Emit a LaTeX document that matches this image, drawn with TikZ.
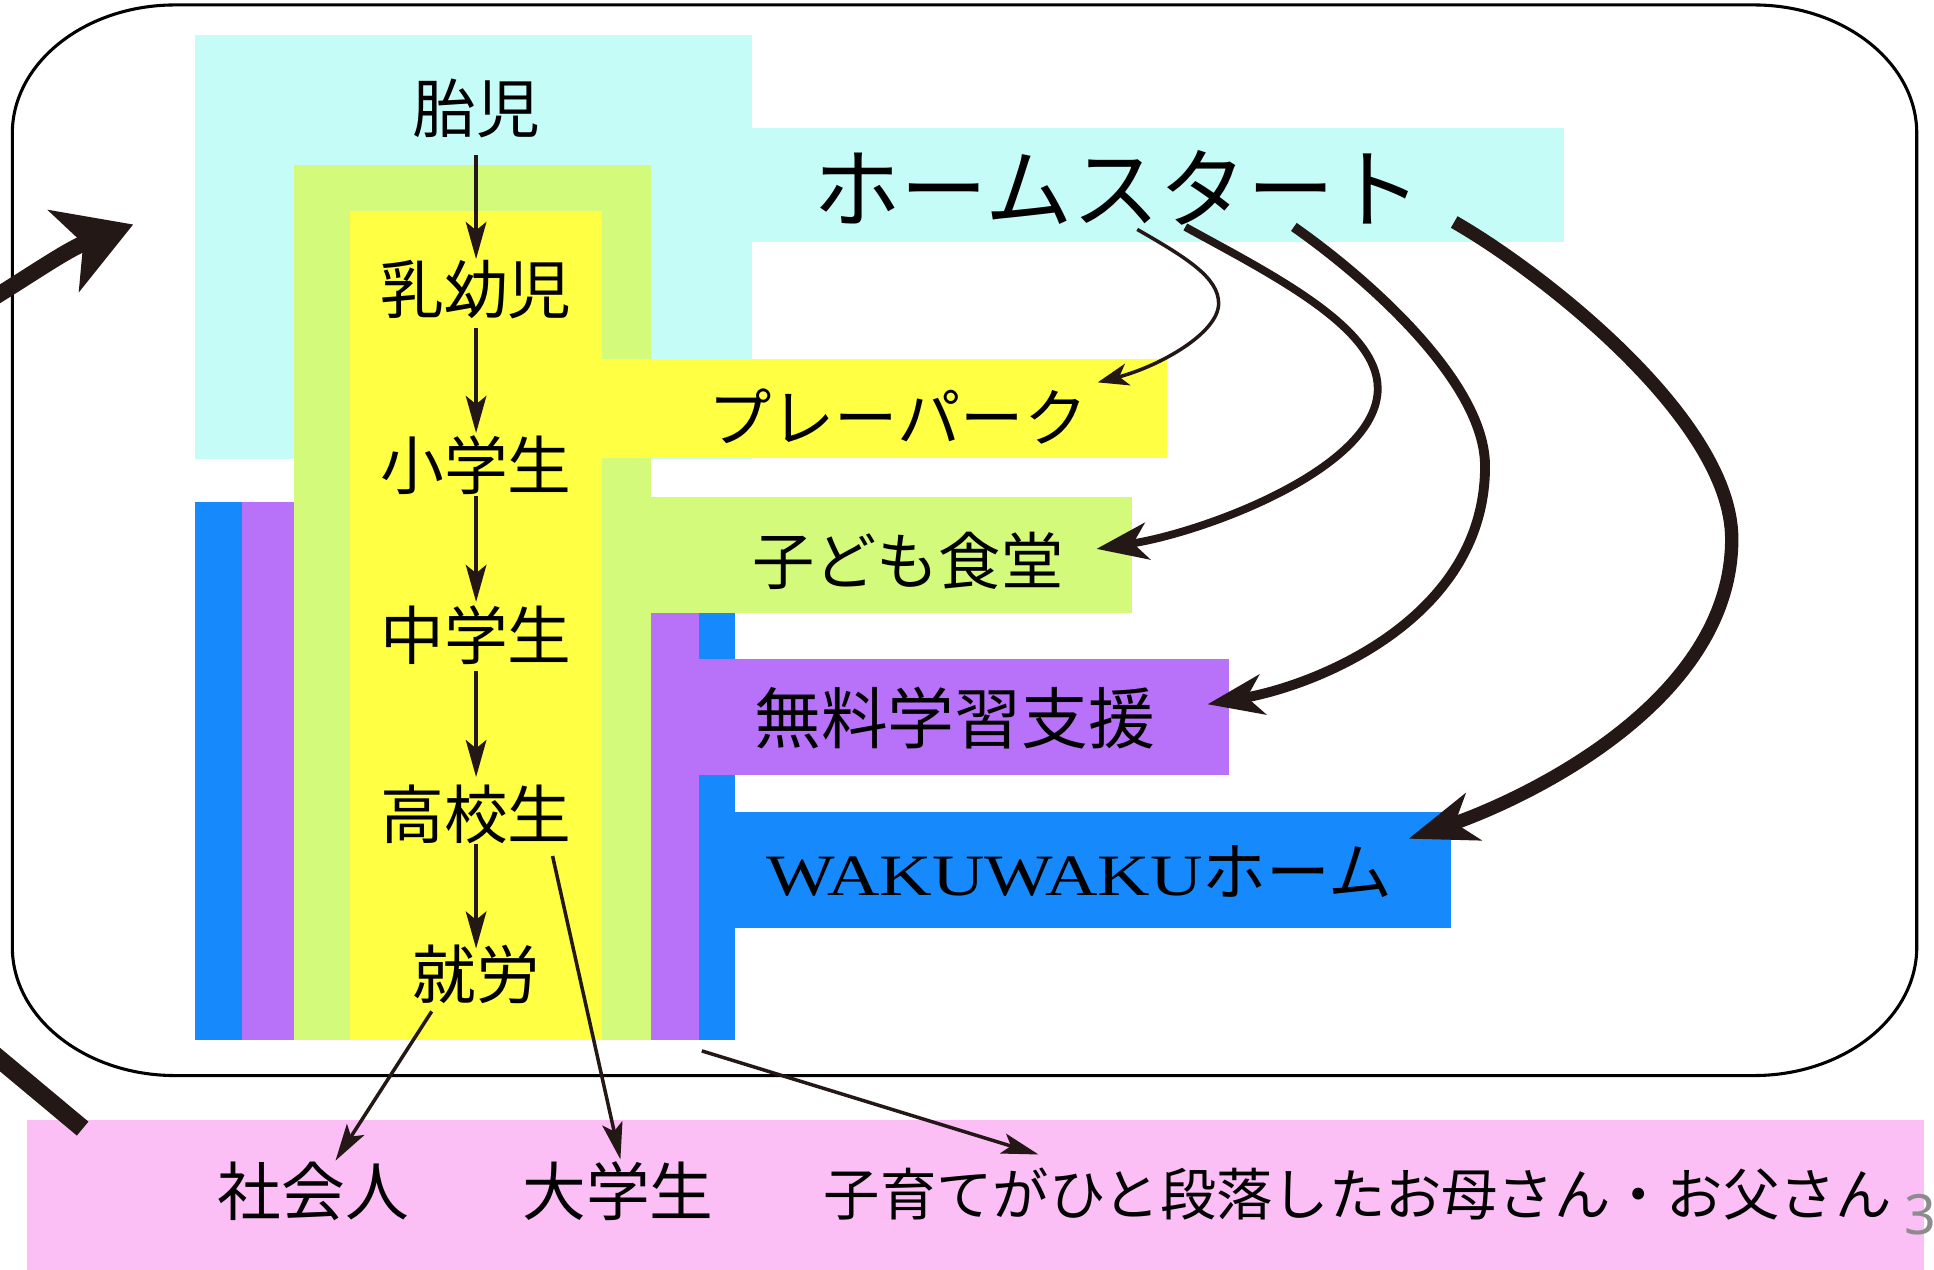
\documentclass[tikz,border=0pt]{standalone}
\usepackage{fontspec}
\setmainfont{Liberation Serif}
\newfontfamily\jp{Noto Sans CJK JP}
\newfontfamily\numfont{Noto Sans}
\usetikzlibrary{arrows.meta,calc}
\definecolor{cyanbg}{RGB}{197,252,248}
\definecolor{greenbg}{RGB}{211,250,122}
\definecolor{yellowbg}{RGB}{255,255,68}
\definecolor{purplebg}{RGB}{184,113,249}
\definecolor{bluebg}{RGB}{22,138,252}
\definecolor{pinkbg}{RGB}{251,190,245}
\definecolor{ink}{RGB}{35,24,21}
\definecolor{pagegray}{RGB}{140,140,140}
\tikzset{
  stage/.style={inner sep=0pt, text=black, font=\jp\fontsize{31}{31}\selectfont},
  svc/.style={inner sep=0pt, text=black, font=\jp\fontsize{31}{31}\selectfont},
  flow/.style={draw=ink, line width=1.7pt, -{Stealth[length=18pt,width=10pt,inset=4pt]}},
  reach/.style={draw=ink, -{Stealth[length=#1,width=0.72*#1,inset=0.28*#1]}},
  frame/.style={draw=black, line width=1.5pt},
}
\begin{document}
\begin{tikzpicture}[x=0.6pt,y=-0.6pt]
\useasboundingbox (0,0) rectangle (1568,1029);
\clip (0,0) rectangle (1568,1029);
\fill[white] (0,0) rectangle (1568,1029);

% colour blocks
\fill[cyanbg] (158,28) rectangle (610,372);
\fill[cyanbg] (610,104) rectangle (1268,196);
\fill[greenbg] (238,134) rectangle (528,843);
\fill[greenbg] (528,403) rectangle (918,497);
\fill[yellowbg] (284,171) rectangle (488,843);
\fill[yellowbg] (488,291) rectangle (946,371);
\fill[bluebg] (158,407) rectangle (196,843);
\fill[purplebg] (196,407) rectangle (238,843);
\fill[bluebg] (567,497) rectangle (596,843);
\fill[purplebg] (528,497) rectangle (567,843);
\fill[purplebg] (567,534) rectangle (996,628);
\fill[bluebg] (596,658) rectangle (1176,752);
\fill[pinkbg] (22,908) rectangle (1560,1040);

% frame
\draw[frame] (142,4) -- (1422,4) .. controls (1495,4) and (1554,51) .. (1554,108)
  -- (1554,768) .. controls (1554,825) and (1495,872) .. (1422,872)
  -- (142,872) .. controls (69,872) and (10,825) .. (10,768)
  -- (10,108) .. controls (10,51) and (69,4) .. (142,4) -- cycle;

% life stages
\node[stage] (taiji) at (386,88) {胎児};
\node[stage] (nyu) at (386,235) {乳幼児};
\node[stage] (shou) at (386,377) {小学生};
\node[stage] (chuu) at (386,515) {中学生};
\node[stage] (kou) at (386,660) {高校生};
\node[stage] (shuro) at (386,790) {就労};

% services
\node[inner sep=0pt, font=\jp\fontsize{42.5}{42.5}\selectfont] (hs) at (906,152) {ホームスタート};
\node[svc, font=\jp\fontsize{30.8}{30.8}\selectfont] (play) at (728,338) {プレーパーク};
\node[svc, font=\jp\fontsize{30.3}{30.3}\selectfont] (kodomo) at (736,455) {子ども食堂};
\node[svc, font=\jp\fontsize{32.5}{32.5}\selectfont] (muryo) at (774,582) {無料学習支援};
\node[inner sep=0pt] (waku) at (875,707) {{\fontsize{28.5}{28.5}\selectfont\scalebox{1.24}[1]{WAKUWAKU}}{\jp\fontsize{31}{31}\selectfont ホーム}};

% outcomes
\node[stage] (shakai) at (254,966) {社会人};
\node[stage] (daigaku) at (501,966) {大学生};
\node[inner sep=0pt, font=\jp\fontsize{27.4}{27.4}\selectfont] (oya) at (1101,968) {子育てがひと段落したお母さん・お父さん};
\node[inner sep=0pt, text=pagegray, font=\numfont\fontsize{27}{27}\selectfont] (pagenum) at (1557,985) {3};

% vertical flow
\draw[flow] ($(taiji)+(0,38)$) -- ($(nyu)+(0,-25)$);
\draw[flow] ($(nyu)+(0,31)$) -- ($(shou)+(0,-26)$);
\draw[flow] ($(shou)+(0,25)$) -- ($(chuu)+(0,-27)$);
\draw[flow] ($(chuu)+(0,29)$) -- ($(kou)+(0,-30)$);
\draw[flow] ($(kou)+(0,24)$) -- ($(shuro)+(0,-21)$);

% exits
\draw[flow] ($(shuro)+(-36,30)$) -- ($(shakai)+(18,-25)$);
\draw[flow] ($(kou)+(62,34)$) -- ($(daigaku)+(2,-26)$);
\coordinate (blockcorner) at (569,852);
\draw[flow] (blockcorner) -- ($(oya)+(-259,-32)$);

% reach arrows from Home-Start
\draw[reach=15pt, line width=1.7pt] ($(hs)+(16,34)$) .. controls (962,209) and (988,225) .. (988,246)
  .. controls (988,270) and (940,297) .. ($(play)+(162,-28)$);
\draw[reach=25pt, line width=3.8pt] ($(hs)+(55,32)$) .. controls (1030,222) and (1117,265) .. (1117,315)
  .. controls (1117,380) and (975,432) .. ($(kodomo)+(153,-10)$);
\draw[reach=27pt, line width=4.8pt] ($(hs)+(143,32)$) .. controls (1109,226) and (1204,310) .. (1204,378)
  .. controls (1204,500) and (1070,555) .. ($(muryo)+(205,-11)$);
\draw[reach=33pt, line width=6.5pt] ($(hs)+(273,28)$) .. controls (1249,220) and (1404,340) .. (1404,437)
  .. controls (1404,575) and (1222,653) .. ($(waku)+(267,-27)$);

% cycle arrows at the left edge
\coordinate (cycin) at (-40,262);
\coordinate (cyctip) at (108,182);
\draw[ink, line width=7.8pt, -{Stealth[length=36pt,width=42pt,inset=10pt]}] (cycin) .. controls (10,234) and (50,204) .. (cyctip);
\coordinate (cycout) at (-30,834);
\coordinate (cycend) at (67,915);
\draw[ink, line width=8.8pt] (cycout) -- (cycend);
\end{tikzpicture}
\end{document}
